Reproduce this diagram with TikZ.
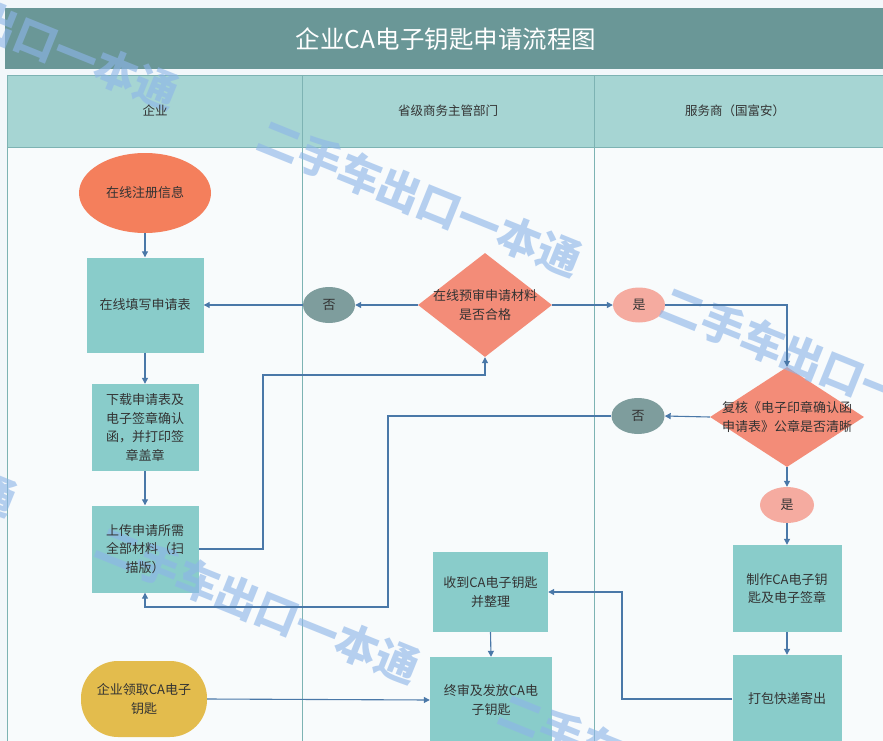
\documentclass[tikz,border=0pt]{standalone}
\usepackage{fontspec}
\setmainfont{Noto Sans CJK SC}
\usetikzlibrary{shapes.geometric,arrows.meta}
\definecolor{pagebg}{HTML}{F2F7FA}
\definecolor{titlec}{HTML}{6A9797}
\definecolor{headc}{HTML}{A6D5D3}
\definecolor{lanec}{HTML}{7DB3B3}
\definecolor{boxc}{HTML}{89CCCA}
\definecolor{orangec}{HTML}{F47F5C}
\definecolor{diac}{HTML}{F38C78}
\definecolor{yesc}{HTML}{F5ABA0}
\definecolor{noc}{HTML}{7E9D9D}
\definecolor{yellowc}{HTML}{E3BC4D}
\definecolor{linec}{HTML}{4A78A8}
\definecolor{txtc}{HTML}{333333}
\definecolor{wmc}{HTML}{8DB5E8}
\newcommand\nfont{\fontsize{13}{18.5}\selectfont}
\newcommand\hfont{\fontsize{12.5}{15}\selectfont}
\begin{document}
\begin{tikzpicture}[x=1pt,y=-1pt,
  box/.style={rectangle, fill=boxc, draw=none, inner sep=0pt},
  oval/.style={ellipse, draw=none, inner sep=0pt},
  dshape/.style={diamond, fill=diac, draw=none, inner sep=0pt},
  lbl/.style={align=center, inner sep=0pt, text=txtc, font=\nfont},
  conn/.style={draw=linec, line width=1.1pt, -{Triangle[length=6pt,width=6pt]}},
  lane/.style={draw=lanec, line width=0.8pt},
  headtext/.style={text=txtc, font=\hfont, inner sep=0pt},
  wm/.style={text=wmc, opacity=0.62, font=\fontsize{43}{43}\selectfont\bfseries, inner sep=0pt, rotate=-22}]
\useasboundingbox (0,0) rectangle (883,741);
\fill[pagebg] (0,0) rectangle (883,741);
\fill[white, opacity=0.5] (7,147) rectangle (883,741);
% title
\fill[titlec] (5,8) rectangle (883,69);
% header
\fill[headc] (7,75) rectangle (883,147);
\draw[lane] (7,75) -- (883,75);
\draw[lane] (7,147) -- (883,147);
\draw[lane] (7,75) -- (7,741);
\draw[lane] (302,75) -- (302,741);
\draw[lane] (594,75) -- (594,741);
% node shapes
\node[oval, fill=orangec, minimum width=132pt, minimum height=80pt] (reg) at (145,193) {};
\node[box, minimum width=117pt, minimum height=95pt] (fill) at (145,305) {};
\node[box, minimum width=107pt, minimum height=87pt] (dl) at (145,427.5) {};
\node[box, minimum width=107pt, minimum height=87pt] (up) at (145,549) {};
\node[box, fill=yellowc, rounded corners=37pt, minimum width=126pt, minimum height=76pt] (yl) at (144,699) {};
\node[oval, fill=noc, minimum width=52pt, minimum height=36pt] (n1) at (329,305) {};
\node[dshape, minimum width=134pt, minimum height=104pt] (d1) at (485,305) {};
\node[oval, fill=yesc, minimum width=52pt, minimum height=35pt] (y1) at (639,305) {};
\node[dshape, minimum width=154pt, minimum height=100pt] (d2) at (787,417) {};
\node[oval, fill=noc, minimum width=53pt, minimum height=36pt] (n2) at (638,416) {};
\node[oval, fill=yesc, minimum width=54pt, minimum height=36pt] (y2) at (787,505) {};
\node[box, minimum width=115pt, minimum height=80pt] (rc) at (490.5,592) {};
\node[box, minimum width=122pt, minimum height=86pt] (fn) at (491,700) {};
\node[box, minimum width=109pt, minimum height=87pt] (mk) at (787,588.5) {};
\node[box, minimum width=109pt, minimum height=88pt] (pk) at (787,699) {};
% watermark
\begin{scope}
\clip (0,0) rectangle (883,741);
\node[wm] (w1) at (17,31) {二手车出口一本通};
\node[wm] (w2) at (420,198) {二手车出口一本通};
\node[wm] (w3) at (823,365) {二手车出口一本通};
\node[wm] (w4) at (-145,438) {二手车出口一本通};
\node[wm] (w5) at (258,605) {二手车出口一本通};
\node[wm] (w6) at (661,772) {二手车出口一本通};
\end{scope}
% connectors
\coordinate (c1) at (263,375);
\coordinate (c2) at (388,607);
\coordinate (c3) at (622,592);
\draw[conn] (reg) -- (fill);
\draw[conn] (fill) -- (dl);
\draw[conn] (dl) -- (up);
\draw[conn] (up.east) -| (c1) -| (d1.south);
\draw[conn] (d1.west) -- (n1.east);
\draw[conn] (n1.west) -- (fill.east);
\draw[conn] (d1.east) -- (y1.west);
\draw[conn] (y1.east) -| (d2.north);
\draw[conn] (d2.west) -- (n2.east);
\draw[conn] (n2.west) -| (c2) -| (up.south);
\draw[conn] (d2.south) -- (y2.north);
\draw[conn] (y2.south) -- (mk.north);
\draw[conn] (mk.south) -- (pk.north);
\draw[conn] (pk.west) -| (c3) -- (rc.east);
\draw[conn] (rc.south) -- (fn.north);
\draw[conn] (yl.east) -- (fn.west);
% texts
\node[text=white, font=\fontsize{24.5}{26}\selectfont, inner sep=0pt] (title) at (446,39) {企业CA电子钥匙申请流程图};
\node[headtext] (h1) at (155,111) {企业};
\node[headtext] (h2) at (448,111) {省级商务主管部门};
\node[headtext] (h3) at (735,111) {服务商（国富安）};
\node[lbl] (regt) at (reg) {在线注册信息};
\node[lbl] (fillt) at (fill) {在线填写申请表};
\node[lbl] (dlt) at (dl) {下载申请表及\\电子签章确认\\函，并打印签\\章盖章};
\node[lbl] (upt) at (up) {上传申请所需\\全部材料（扫\\描版）};
\node[lbl] (ylt) at (yl) {企业领取CA电子\\钥匙};
\node[lbl] (n1t) at (n1) {否};
\node[lbl] (d1t) at (d1) {在线预审申请材料\\是否合格};
\node[lbl] (y1t) at (y1) {是};
\node[lbl] (d2t) at (d2) {复核《电子印章确认函\\申请表》公章是否清晰};
\node[lbl] (n2t) at (n2) {否};
\node[lbl] (y2t) at (y2) {是};
\node[lbl] (rct) at (rc) {收到CA电子钥匙\\并整理};
\node[lbl] (fnt) at (fn) {终审及发放CA电\\子钥匙};
\node[lbl] (mkt) at (mk) {制作CA电子钥\\匙及电子签章};
\node[lbl] (pkt) at (pk) {打包快递寄出};
\end{tikzpicture}
\end{document}
